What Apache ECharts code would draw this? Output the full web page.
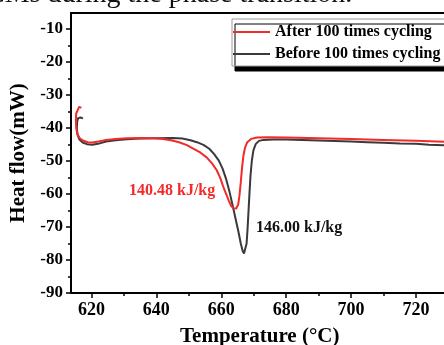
<!DOCTYPE html>
<html>
<head>
<meta charset="utf-8">
<style>
  html, body { margin: 0; padding: 0; background: #fff; }
  #chart { width: 444px; height: 345px; }
</style>
<script src="https://cdn.jsdelivr.net/npm/echarts@6/dist/echarts.min.js"></script>
</head>
<body>
<div id="chart"></div>
<script>
// DSC heating curves: [temperature (°C), heat flow (mW)]
const afterCycling = [
  [616.9,-33.9],[616.2,-33.6],[615.6,-34.1],[615.3,-35.6],[615.2,-37.6],[615.3,-40.0],
  [615.7,-41.9],[616.4,-43.1],[617.4,-43.8],[618.8,-44.3],[620.3,-44.4],[622.2,-44.1],
  [624.5,-43.6],[627.5,-43.3],[631,-43.1],[635,-43.0],[639,-43.1],[642,-43.3],
  [644.5,-43.7],[647,-44.3],[649.4,-45.2],[651.5,-46.3],[653.5,-47.4],[655.5,-48.9],
  [657.2,-50.8],[658.6,-52.8],[659.7,-55.2],[660.6,-57.8],[661.5,-60.0],[662.3,-62.0],
  [663.1,-63.7],[663.8,-64.3],[664.6,-64.4],[665.2,-63.2],[665.6,-60.5],[666.0,-56.5],
  [666.4,-52.0],[666.8,-48.5],[667.3,-46.0],[668.0,-44.3],[669.2,-43.3],[671,-42.9],
  [674,-42.8],[680,-42.9],[690,-43.1],[700,-43.3],[710,-43.6],[720,-43.9],[730,-44.2]
];
const beforeCycling = [
  [617.4,-37.1],[616.6,-36.8],[615.9,-37.0],[615.6,-38.0],[615.5,-40.0],[615.7,-42.0],
  [616.3,-43.5],[617.3,-44.4],[618.6,-44.9],[620.3,-45.1],[622.0,-44.8],[624.5,-44.1],
  [627.5,-43.7],[631,-43.4],[635,-43.2],[640,-43.1],[645,-43.0],[648,-43.2],
  [650.5,-43.7],[652.5,-44.3],[654.5,-45.1],[656.3,-46.3],[657.8,-47.9],[659.2,-49.8],
  [660.4,-52.3],[661.5,-55.5],[662.5,-59.2],[663.5,-63.5],[664.4,-67.5],[665.3,-71.5],
  [666.0,-75.0],[666.6,-77.3],[667.0,-78.0],[667.4,-77.6],[667.8,-75.0],[668.1,-70.5],
  [668.4,-65.0],[668.7,-59.5],[669.0,-54.5],[669.4,-50.0],[669.9,-46.8],[670.6,-44.9],
  [671.6,-43.9],[673,-43.6],[676,-43.5],[680,-43.5],[690,-43.8],[700,-44.1],
  [705,-44.3],[710,-44.5],[715,-44.7],[720,-44.8],[724,-45.1],[730,-45.3]
];

// axis ticks
const xMajorTicks = [620, 640, 660, 680, 700, 720];
const xMinorTicks = [630, 650, 670, 690, 710];
const yMajorTicks = [-90, -80, -70, -60, -50, -40, -30, -20, -10];
const yMinorTicks = [-85, -75, -65, -55, -45, -35, -25, -15];

const seriesNames = ['After 100 times cycling', 'Before 100 times cycling'];
const enthalpyLabels = ['140.48 kJ/kg', '146.00 kJ/kg'];

const FONT = '"Liberation Serif", "Times New Roman", serif';
const chart = echarts.init(document.getElementById('chart'), null, { renderer: 'canvas' });

const xRange = { min: 613.7, max: 730 };
const yRange = { min: -90, max: -5.15 };

chart.setOption({
  animation: false,
  backgroundColor: '#fff',
  grid: {
    left: 71, right: -4.5, top: 13, bottom: 52,
    outerBoundsMode: 'none', containLabel: false,
    show: true, borderColor: '#000', borderWidth: 2, backgroundColor: 'transparent'
  },
  legend: {
    orient: 'vertical',
    left: 232, top: 19,
    padding: [5, 24, 4, 1],
    itemGap: 6, itemWidth: 37, itemHeight: 2,
    icon: 'rect',
    backgroundColor: '#fff',
    borderColor: '#9a9a9a', borderWidth: 1,
    shadowColor: '#000', shadowBlur: 0, shadowOffsetX: 3, shadowOffsetY: 5,
    textStyle: { fontFamily: FONT, fontWeight: 'bold', fontSize: 16, color: '#000', lineHeight: 16 },
    data: seriesNames
  },
  xAxis: [{
    type: 'value', ...xRange,
    name: 'Temperature (°C)', nameLocation: 'middle', nameGap: 33,
    nameTextStyle: { fontFamily: FONT, fontWeight: 'bold', fontSize: 21, color: '#000' },
    axisLine: { show: true, lineStyle: { color: '#000', width: 2 } },
    axisTick: { show: true, inside: false, length: 5, customValues: xMajorTicks, lineStyle: { color: '#000', width: 1.5 } },
    axisLabel: { show: true, margin: 8, customValues: xMajorTicks, fontFamily: FONT, fontWeight: 'bold', fontSize: 18, color: '#000' },
    splitLine: { show: false }
  }, {
    type: 'value', ...xRange, position: 'bottom', gridIndex: 0,
    axisLine: { show: false },
    axisTick: { show: true, length: 3, customValues: xMinorTicks, lineStyle: { color: '#000', width: 1.5 } },
    axisLabel: { show: false },
    splitLine: { show: false }
  }],
  yAxis: [{
    type: 'value', ...yRange,
    name: 'Heat flow(mW)', nameLocation: 'middle', nameGap: 35, nameRotate: 90,
    nameTextStyle: { fontFamily: FONT, fontWeight: 'bold', fontSize: 21, color: '#000' },
    axisLine: { show: true, lineStyle: { color: '#000', width: 2 } },
    axisTick: { show: true, length: 5, customValues: yMajorTicks, lineStyle: { color: '#000', width: 1.5 } },
    axisLabel: { show: true, margin: 8, customValues: yMajorTicks, fontFamily: FONT, fontWeight: 'bold', fontSize: 17, color: '#000' },
    splitLine: { show: false }
  }, {
    type: 'value', ...yRange, position: 'left',
    axisLine: { show: false },
    axisTick: { show: true, length: 3, customValues: yMinorTicks, lineStyle: { color: '#000', width: 1.5 } },
    axisLabel: { show: false },
    splitLine: { show: false }
  }],
  series: [{
    name: seriesNames[1], type: 'line', data: beforeCycling,
    symbol: 'none', showSymbol: false, smooth: false,
    lineStyle: { color: '#3a3a3a', width: 2 }, itemStyle: { color: '#3a3a3a' }, z: 2
  }, {
    name: seriesNames[0], type: 'line', data: afterCycling,
    symbol: 'none', showSymbol: false, smooth: false,
    lineStyle: { color: '#f22a2a', width: 2 }, itemStyle: { color: '#f22a2a' }, z: 3
  }],
  graphic: [{
    type: 'text', left: -14, top: -19, silent: true,
    style: { text: 'CMs during the phase transition.', font: '28px ' + FONT, fill: '#111' }
  }, {
    type: 'text', left: 129, top: 183, silent: true,
    style: { text: enthalpyLabels[0], font: 'bold 16px ' + FONT, fill: '#f22a2a' }
  }, {
    type: 'text', left: 256, top: 220, silent: true,
    style: { text: enthalpyLabels[1], font: 'bold 16px ' + FONT, fill: '#111' }
  }]
});
</script>
</body>
</html>
